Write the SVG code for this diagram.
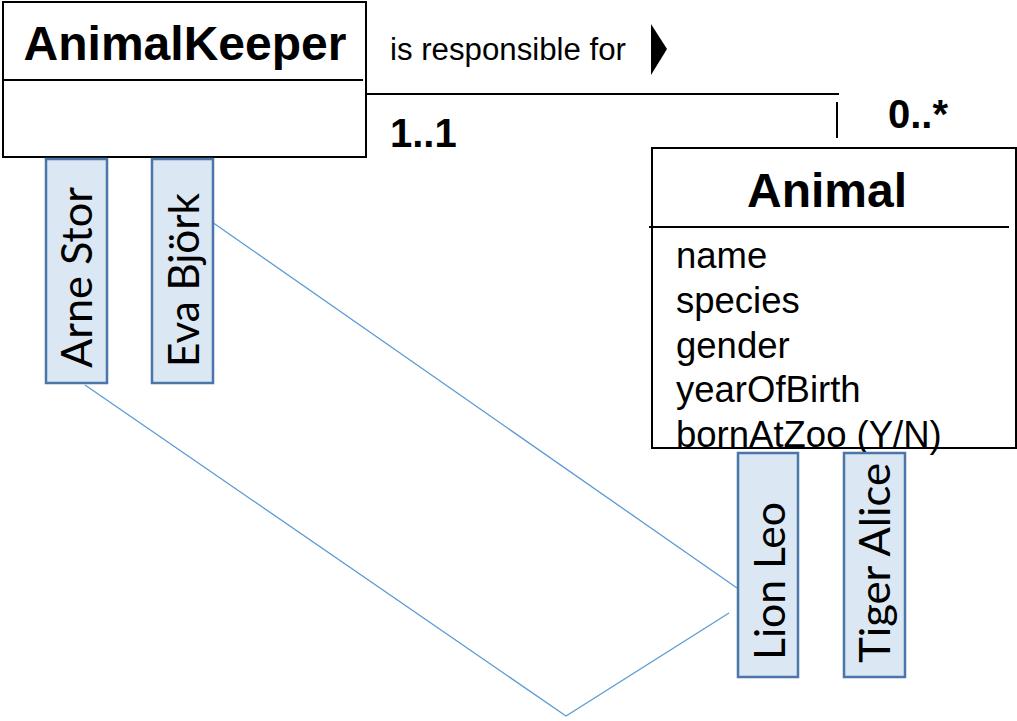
<svg xmlns="http://www.w3.org/2000/svg" width="1017" height="721" viewBox="0 0 1017 721">
<style>
.box{fill:#fff;stroke:#000;stroke-width:2}
.div{stroke:#000;stroke-width:2}
.title{font-family:"Liberation Sans",Arial,sans-serif;font-weight:bold;font-size:48px;fill:#000}
.attr{font-family:"Liberation Sans",Arial,sans-serif;font-size:36.5px;fill:#000}
.mult{font-family:"Liberation Sans",Arial,sans-serif;font-weight:bold;font-size:40px;fill:#000}
.lbl{font-family:"Liberation Sans",Arial,sans-serif;font-size:31px;fill:#000}
.inst{fill:#dce7f4;stroke:#4a76a8;stroke-width:2.5}
.itext{font-family:Lato,"Open Sans",sans-serif;font-size:43px;fill:#000}
.link{fill:none;stroke:#5b9bd5;stroke-width:1.3}
.assoc{fill:none;stroke:#000;stroke-width:2}
</style>
<rect width="1017" height="721" fill="#fff"/>
<g id="connectors">
<line class="assoc" x1="366" y1="94" x2="839" y2="94"/>
<line class="assoc" x1="837" y1="102" x2="837" y2="138"/>
<polyline class="link" points="212,222 737,588"/>
<polyline class="link" points="85,385 566,716 729,613"/>
</g>
<g id="assoc-label">
<text class="lbl" x="390" y="60" textLength="236" lengthAdjust="spacingAndGlyphs">is responsible for</text>
<polygon points="651,24 667,49 651,75" fill="#000"/>
<text class="mult" x="390" y="147">1..1</text>
<text class="mult" x="888" y="128">0..*</text>
</g>
<g id="AnimalKeeper">
<rect class="box" x="3" y="2" width="363" height="155"/>
<line class="div" x1="3" y1="80" x2="363" y2="80"/>
<text class="title" x="185" y="60" text-anchor="middle">AnimalKeeper</text>
</g>
<g id="Animal">
<rect class="box" x="652" y="148" width="364" height="300"/>
<line class="div" x1="649" y1="227" x2="1009" y2="227"/>
<text class="title" x="827" y="207" text-anchor="middle">Animal</text>
<text class="attr" x="676" y="268">name</text>
<text class="attr" x="676" y="313">species</text>
<text class="attr" x="676" y="358">gender</text>
<text class="attr" x="676" y="402">yearOfBirth</text>
<text class="attr" x="676" y="447">bornAtZoo (Y/N)</text>
</g>
<g id="ArneStor">
<rect class="inst" x="46" y="159" width="61" height="224"/>
<text class="itext" transform="translate(92,368) rotate(-90)" textLength="181" lengthAdjust="spacingAndGlyphs">Arne Stor</text>
</g>
<g id="EvaBjork">
<rect class="inst" x="152" y="159" width="61" height="224"/>
<text class="itext" transform="translate(199,367) rotate(-90)" textLength="174" lengthAdjust="spacingAndGlyphs">Eva Björk</text>
</g>
<g id="LionLeo">
<rect class="inst" x="738" y="453" width="60" height="224"/>
<text class="itext" transform="translate(785,660) rotate(-90)" textLength="158" lengthAdjust="spacingAndGlyphs">Lion Leo</text>
</g>
<g id="TigerAlice">
<rect class="inst" x="844" y="453" width="61" height="224"/>
<text class="itext" transform="translate(890,663) rotate(-90)" textLength="200" lengthAdjust="spacingAndGlyphs">Tiger Alice</text>
</g>
</svg>
